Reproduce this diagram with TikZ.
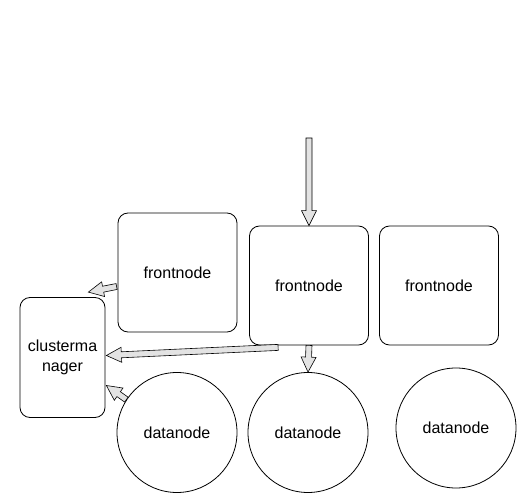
\documentclass[tikz,border=0pt]{standalone}
\usepackage{fontspec}
\setmainfont{Liberation Sans}
\usetikzlibrary{calc}
\tikzset{
  lbl/.style={font=\fontsize{16}{19.5}\selectfont, align=center, inner sep=0pt},
  boxnode/.style={lbl, draw, rounded corners=10pt, minimum width=119pt, minimum height=119pt, line width=0.8pt},
  cmnode/.style={lbl, draw, rounded corners=10pt, minimum width=85pt, minimum height=120pt, line width=0.8pt},
  circnode/.style={lbl, draw, circle, minimum size=120pt, line width=0.8pt},
  flexarrow/.style={draw, fill=gray!22, line width=0.6pt, line join=miter}
}
\newcommand{\flexarr}[2]{%
  \path ($(#2)!15pt!(#1)$) coordinate (fhb);
  \draw[flexarrow] ($(#1)!3pt!90:(#2)$) -- ($(fhb)!3pt!90:(#2)$) -- ($(fhb)!7.5pt!90:(#2)$) -- (#2) -- ($(fhb)!7.5pt!-90:(#2)$) -- ($(fhb)!3pt!-90:(#2)$) -- ($(#1)!3pt!-90:(#2)$) -- cycle;}
\begin{document}
\begin{tikzpicture}[x=1pt,y=-1pt]
\useasboundingbox (0,0) rectangle (520,497);
\node[boxnode] (fn1) at (177.5,272.5) {frontnode};
\node[boxnode] (fn2) at (309,285.5) {frontnode};
\node[boxnode] (fn3) at (439,285.5) {frontnode};
\node[cmnode] (cm) at (62.5,357.5) {clusterma\\nager};
\node[circnode] (dn1) at (177,432.5) {datanode};
\node[circnode] (dn2) at (308,432.5) {datanode};
\node[circnode] (dn3) at (456,428) {datanode};
\coordinate (top) at (309,138);
\coordinate (fn2tail) at ($(fn2.south west)+(29,2)$);
\coordinate (cmtipa) at ($(cm.east)+(1,-2)$);
\coordinate (fn1tail) at ($(fn1.west)+(-1,14)$);
\coordinate (cmtipb) at ($(cm.north east)+(-17,-5)$);
\coordinate (dn1tail) at (dn1.147);
\coordinate (cmtipc) at ($(cm.east)+(1,28)$);
\flexarr{top}{fn2.north}
\flexarr{fn2.south}{dn2.north}
\flexarr{fn2tail}{cmtipa}
\flexarr{fn1tail}{cmtipb}
\flexarr{dn1tail}{cmtipc}
\end{tikzpicture}
\end{document}
